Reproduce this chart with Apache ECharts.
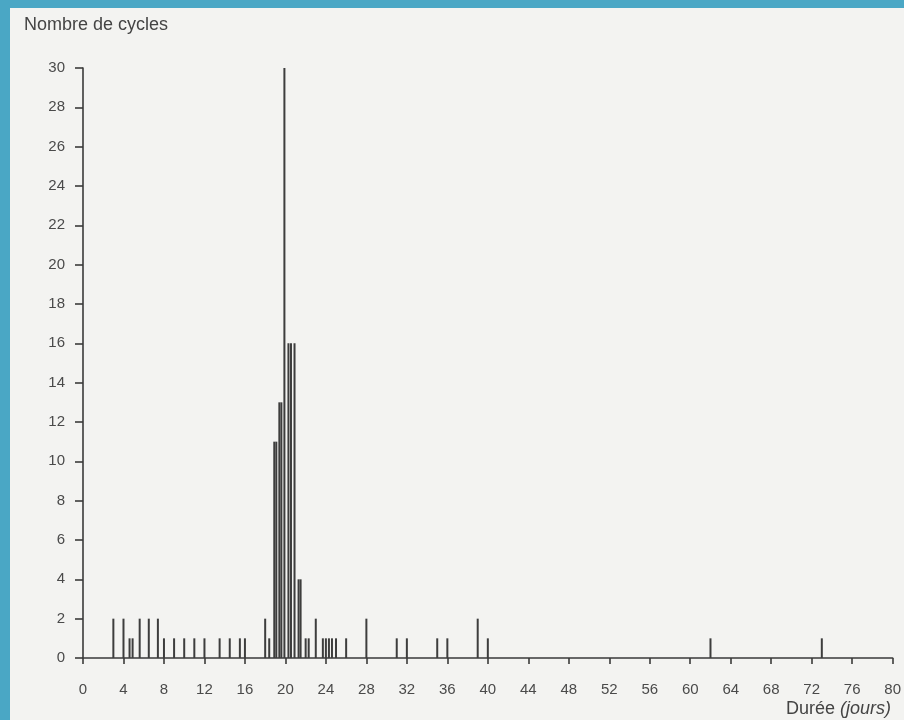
<!DOCTYPE html>
<html>
<head>
<meta charset="utf-8">
<script src="https://cdn.jsdelivr.net/npm/echarts@6/dist/echarts.min.js"></script>
<style>
html,body{margin:0;padding:0;width:904px;height:720px;background:#4aa7c5;overflow:hidden;}
#chart{position:absolute;left:10px;top:8px;width:894px;height:712px;}
</style>
</head>
<body>
<div id="chart"></div>
<script>
// Durée du cycle (jours) et nombre de cycles
const durees = [3, 4, 4.6, 4.9, 5.6, 6.5, 7.4, 8, 9, 10, 11, 12, 13.5, 14.5, 15.5, 16,
  18, 18.4, 18.9, 19.1, 19.4, 19.6, 19.9, 20.3, 20.55, 20.9, 21.3, 21.5, 22, 22.3, 23, 23.7,
  24, 24.3, 24.6, 25, 26, 28, 31, 32, 35, 36, 39, 40, 62, 73];
const cycles = [2, 2, 1, 1, 2, 2, 2, 1, 1, 1, 1, 1, 1, 1, 1, 1,
  2, 1, 11, 11, 13, 13, 30, 16, 16, 16, 4, 4, 1, 1, 2, 1,
  1, 1, 1, 1, 1, 2, 1, 1, 1, 1, 2, 1, 1, 1];
const xTicks = [0, 4, 8, 12, 16, 20, 24, 28, 32, 36, 40, 44, 48, 52, 56, 60, 64, 68, 72, 76, 80];
const yTicks = [0, 2, 4, 6, 8, 10, 12, 14, 16, 18, 20, 22, 24, 26, 28, 30];
const yTitle = 'Nombre de cycles';
const xTitleMain = 'Durée';
const xTitleUnit = '(jours)';

const chart = echarts.init(document.getElementById('chart'));
const ink = '#3a3a3a';
chart.setOption({
  backgroundColor: '#f3f3f1',
  animation: false,
  textStyle: {fontFamily: 'Liberation Sans, Arial, sans-serif'},
  title: [
    {text: yTitle, left: 9, top: 3,
     textStyle: {fontSize: 18, fontWeight: 'normal', color: '#444'}},
    {text: '{a|' + xTitleMain + ' }{b|' + xTitleUnit + '}', right: 8, bottom: -3,
     textStyle: {fontWeight: 'normal', rich: {
       a: {fontSize: 18, color: '#444', fontWeight: 'normal'},
       b: {fontSize: 18, color: '#444', fontWeight: 'normal', fontStyle: 'italic'}}}}
  ],
  grid: {left: 73, top: 60, width: 810, height: 590},
  xAxis: {
    type: 'value', min: xTicks[0], max: xTicks[xTicks.length - 1], interval: xTicks[1] - xTicks[0],
    axisLine: {lineStyle: {color: ink, width: 1.6}},
    axisTick: {length: 6, lineStyle: {color: ink, width: 1.6}},
    axisLabel: {margin: 24, fontSize: 15, color: '#4a4a4a'},
    splitLine: {show: false}
  },
  yAxis: {
    type: 'value', min: yTicks[0], max: yTicks[yTicks.length - 1], interval: yTicks[1] - yTicks[0],
    axisLine: {show: true, lineStyle: {color: ink, width: 1.6}},
    axisTick: {show: true, length: 8, lineStyle: {color: ink, width: 1.6}},
    axisLabel: {margin: 18, fontSize: 15, color: '#4a4a4a'},
    splitLine: {show: false}
  },
  series: [{
    type: 'bar',
    barWidth: 2,
    barGap: '-100%',
    itemStyle: {color: '#3d3d3d'},
    data: durees.map((d, i) => [d, cycles[i]])
  }]
});
</script>
</body>
</html>
